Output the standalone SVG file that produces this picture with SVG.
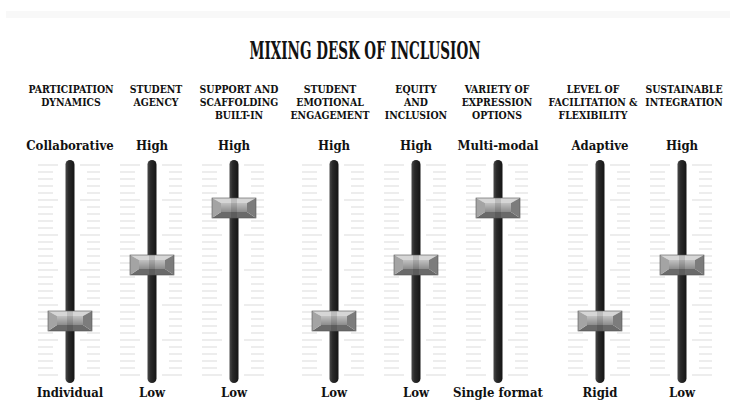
<svg xmlns="http://www.w3.org/2000/svg" xmlns:xlink="http://www.w3.org/1999/xlink" width="730" height="401" viewBox="0 0 730 401">
<style>
text{font-family:"DejaVu Serif","Liberation Serif",serif;font-weight:bold;fill:#111;text-anchor:middle}
.title{font-size:24px;font-stretch:condensed}
.hd{font-size:10.4px;font-stretch:condensed}
.val{font-size:13px;font-stretch:condensed}
.tick{stroke:#dcdcdc;stroke-width:1.2;fill:none}
</style>
<defs>
<linearGradient id="trk" x1="0" y1="0" x2="1" y2="0">
<stop offset="0" stop-color="#4a4a4a"/><stop offset="0.35" stop-color="#2a2a2a"/><stop offset="1" stop-color="#151515"/>
</linearGradient>
<linearGradient id="face" x1="0" y1="0" x2="0" y2="1">
<stop offset="0" stop-color="#c2c2c2"/><stop offset="1" stop-color="#8c8c8c"/>
</linearGradient>
<path id="ticks" class="tick" d="M-32 165H-12M10 165H30M-32 172H-17M17 172H30M-32 179H-17M17 179H30M-32 186H-17M17 186H30M-32 193H-17M17 193H30M-32 200H-12M10 200H30M-32 207H-17M17 207H30M-32 214H-17M17 214H30M-32 221H-17M17 221H30M-32 228H-17M17 228H30M-32 235H-12M10 235H30M-32 242H-17M17 242H30M-32 249H-17M17 249H30M-32 256H-17M17 256H30M-32 263H-17M17 263H30M-32 270H-12M10 270H30M-32 277H-17M17 277H30M-32 284H-17M17 284H30M-32 291H-17M17 291H30M-32 298H-17M17 298H30M-32 305H-12M10 305H30M-32 312H-17M17 312H30M-32 319H-17M17 319H30M-32 326H-17M17 326H30M-32 333H-17M17 333H30M-32 340H-12M10 340H30M-32 347H-17M17 347H30M-32 354H-17M17 354H30M-32 361H-17M17 361H30M-32 368H-17M17 368H30M-32 375H-12M10 375H30"/>
<rect id="track" x="-4.5" y="160" width="9" height="223" rx="4.5" fill="url(#trk)"/>
<g id="knob">
<polygon points="-22,-10 22,-10 13,-5 -13,-5" fill="#d6d6d6"/>
<polygon points="-22,10 22,10 13,4 -13,4" fill="#6a6a6a"/>
<polygon points="-22,-10 -13,-5 -13,4 -22,10" fill="#a4a4a4"/>
<polygon points="22,-10 13,-5 13,4 22,10" fill="#7c7c7c"/>
<rect x="-13" y="-5" width="26" height="9" fill="url(#face)"/>
<rect x="-3" y="-10" width="6" height="20" fill="#000" opacity="0.12"/>
<rect x="-22" y="-10" width="44" height="20" fill="none" stroke="#555" stroke-width="0.6"/>
</g>
</defs>
<rect x="6" y="11" width="724" height="7" fill="#f8f8f8"/>
<text class="title" x="365" y="59" textLength="231" lengthAdjust="spacingAndGlyphs">MIXING DESK OF INCLUSION</text>

<g id="ch1">
<text class="hd" x="71" y="93">PARTICIPATION</text><text class="hd" x="71" y="106">DYNAMICS</text>
<text class="val" x="70" y="150">Collaborative</text>
<use xlink:href="#ticks" x="70"/><use xlink:href="#track" x="70"/>
<use xlink:href="#knob" x="70" y="321"/>
<text class="val" x="70" y="397">Individual</text>
</g>
<g id="ch2">
<text class="hd" x="156" y="93">STUDENT</text><text class="hd" x="156" y="106">AGENCY</text>
<text class="val" x="152" y="150">High</text>
<use xlink:href="#ticks" x="152"/><use xlink:href="#track" x="152"/>
<use xlink:href="#knob" x="152" y="265"/>
<text class="val" x="152" y="397">Low</text>
</g>
<g id="ch3">
<text class="hd" x="239" y="93">SUPPORT AND</text><text class="hd" x="239" y="106">SCAFFOLDING</text><text class="hd" x="239" y="119">BUILT-IN</text>
<text class="val" x="234" y="150">High</text>
<use xlink:href="#ticks" x="234"/><use xlink:href="#track" x="234"/>
<use xlink:href="#knob" x="234" y="208"/>
<text class="val" x="234" y="397">Low</text>
</g>
<g id="ch4">
<text class="hd" x="330" y="93">STUDENT</text><text class="hd" x="330" y="106">EMOTIONAL</text><text class="hd" x="330" y="119">ENGAGEMENT</text>
<text class="val" x="334" y="150">High</text>
<use xlink:href="#ticks" x="334"/><use xlink:href="#track" x="334"/>
<use xlink:href="#knob" x="334" y="321"/>
<text class="val" x="334" y="397">Low</text>
</g>
<g id="ch5">
<text class="hd" x="416" y="93">EQUITY</text><text class="hd" x="416" y="106">AND</text><text class="hd" x="416" y="119">INCLUSION</text>
<text class="val" x="416" y="150">High</text>
<use xlink:href="#ticks" x="416"/><use xlink:href="#track" x="416"/>
<use xlink:href="#knob" x="416" y="265"/>
<text class="val" x="416" y="397">Low</text>
</g>
<g id="ch6">
<text class="hd" x="497" y="93">VARIETY OF</text><text class="hd" x="497" y="106">EXPRESSION</text><text class="hd" x="497" y="119">OPTIONS</text>
<text class="val" x="498" y="150">Multi-modal</text>
<use xlink:href="#ticks" x="498"/><use xlink:href="#track" x="498"/>
<use xlink:href="#knob" x="498" y="208"/>
<text class="val" x="498" y="397">Single format</text>
</g>
<g id="ch7">
<text class="hd" x="593" y="93">LEVEL OF</text><text class="hd" x="593" y="106">FACILITATION &amp;</text><text class="hd" x="593" y="119">FLEXIBILITY</text>
<text class="val" x="600" y="150">Adaptive</text>
<use xlink:href="#ticks" x="600"/><use xlink:href="#track" x="600"/>
<use xlink:href="#knob" x="600" y="321"/>
<text class="val" x="600" y="397">Rigid</text>
</g>
<g id="ch8">
<text class="hd" x="684" y="93">SUSTAINABLE</text><text class="hd" x="684" y="106">INTEGRATION</text>
<text class="val" x="682" y="150">High</text>
<use xlink:href="#ticks" x="682"/><use xlink:href="#track" x="682"/>
<use xlink:href="#knob" x="682" y="265"/>
<text class="val" x="682" y="397">Low</text>
</g>
<g id="connectors"/>
</svg>
